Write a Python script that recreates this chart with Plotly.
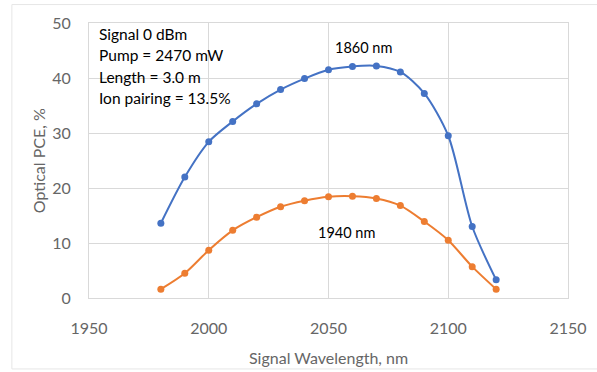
import plotly.graph_objects as go

wavelength = [1980, 1990, 2000, 2010, 2020, 2030, 2040, 2050, 2060, 2070, 2080, 2090, 2100, 2110, 2120]
pce_1860 = [13.6, 22.0, 28.4, 32.1, 35.3, 37.9, 39.9, 41.5, 42.1, 42.2, 41.1, 37.2, 29.5, 13.0, 3.3]
pce_1940 = [1.6, 4.5, 8.7, 12.3, 14.7, 16.6, 17.7, 18.4, 18.5, 18.1, 16.8, 13.9, 10.5, 5.7, 1.6]
x_ticks = [1950, 2000, 2050, 2100, 2150]
y_ticks = [0, 10, 20, 30, 40, 50]
info_lines = ["Signal 0 dBm", "Pump = 2470 mW", "Length = 3.0 m", "Ion pairing = 13.5%"]

FONT = "Lato, Carlito, 'Liberation Sans', sans-serif"
GRID = "#d9d9d9"
TICK = "#666666"

fig = go.Figure()
fig.add_trace(go.Scatter(x=wavelength, y=pce_1860, mode="lines+markers", name="1860 nm",
                         line=dict(color="#4472c4", width=2, shape="spline", smoothing=0.8),
                         marker=dict(size=7, color="#4472c4")))
fig.add_trace(go.Scatter(x=wavelength, y=pce_1940, mode="lines+markers", name="1940 nm",
                         line=dict(color="#ed7d31", width=2, shape="spline", smoothing=0.8),
                         marker=dict(size=7, color="#ed7d31")))

annotations = []
for i, t in enumerate(info_lines):
    annotations.append(dict(x=1953.3, y=48.0 - i * 3.9, xref="x", yref="y", text=t, showarrow=False,
                            xanchor="left", yanchor="middle", font=dict(family=FONT, size=15.5, color="#000")))
annotations.append(dict(x=2064.5, y=45.6, xref="x", yref="y", text="1860 nm", showarrow=False,
                        xanchor="center", yanchor="middle", font=dict(family=FONT, size=14.5, color="#000")))
annotations.append(dict(x=2057.5, y=12.0, xref="x", yref="y", text="1940 nm", showarrow=False,
                        xanchor="center", yanchor="middle", font=dict(family=FONT, size=14.5, color="#000")))
annotations.append(dict(x=0.5, y=-0.215, xref="paper", yref="paper", text="Signal Wavelength, nm",
                        showarrow=False, xanchor="center", yanchor="middle",
                        font=dict(family=FONT, size=16, color=TICK)))
annotations.append(dict(x=-0.105, y=0.5, xref="paper", yref="paper", text="Optical PCE, %", textangle=-90,
                        showarrow=False, xanchor="center", yanchor="middle",
                        font=dict(family=FONT, size=16, color=TICK)))

fig.update_layout(
    width=597, height=372,
    margin=dict(l=89, r=29, t=23, b=74, autoexpand=False),
    paper_bgcolor="white", plot_bgcolor="white",
    showlegend=False,
    font=dict(family=FONT, color=TICK),
    annotations=annotations,
    xaxis=dict(range=[1950, 2150], tickvals=x_ticks, showgrid=True, gridcolor=GRID, gridwidth=1,
               zeroline=False, showline=True, linecolor=GRID, mirror=True, ticks="",
               automargin=False, ticklabelstandoff=16,
               tickfont=dict(size=16, color=TICK, family=FONT)),
    yaxis=dict(range=[0, 50], tickvals=y_ticks, showgrid=True, gridcolor=GRID, gridwidth=1,
               zeroline=False, showline=True, linecolor=GRID, mirror=True, ticks="",
               automargin=False, ticklabelstandoff=14,
               tickfont=dict(size=16, color=TICK, family=FONT)),
    shapes=[dict(type="rect", xref="paper", yref="paper", x0=-0.161, x1=1.2, y0=-0.258, y1=1.067,
                 line=dict(color="#e6e6e6", width=1), layer="below")],
)

fig.write_html("out.html", config={"displayModeBar": False},
               post_script="document.body.style.margin='0';document.body.style.overflow='hidden';")
